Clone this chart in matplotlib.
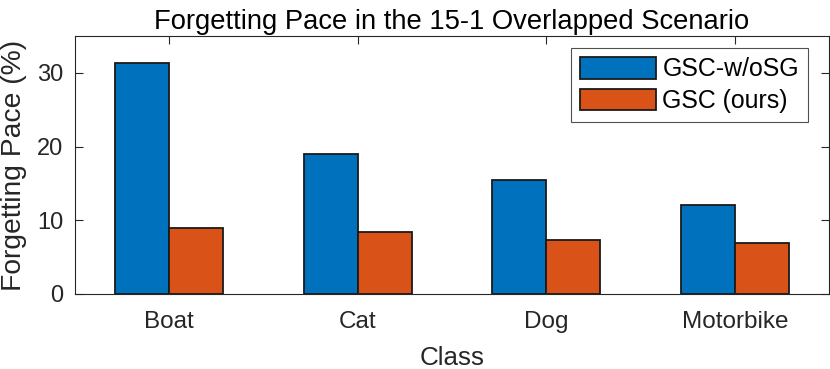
import numpy as np
import matplotlib.pyplot as plt

classes = ["Boat", "Cat", "Dog", "Motorbike"]
series_names = ["GSC-w/oSG", "GSC (ours)"]
wo_sg = [31.3, 18.95, 15.4, 12.1]
ours = [9.0, 8.4, 7.3, 6.95]
yticks = [0, 10, 20, 30]

colors = ["#0072BD", "#D95319"]

plt.rcParams["font.family"] = ["Liberation Sans", "DejaVu Sans"]

fig = plt.figure(figsize=(8.3, 3.69), dpi=100)
ax = fig.add_axes([75 / 830, 1 - 294 / 369, 754 / 830, 258 / 369])

x = np.arange(1, len(classes) + 1)
w = 0.286
for i, (vals, name) in enumerate(zip([wo_sg, ours], series_names)):
    ax.bar(x + (i - 0.5) * w, vals, width=w, color=colors[i],
           edgecolor="#1a1a1a", linewidth=1.3, label=name)

ax.set_xlim(0.5, 4.5)
ax.set_ylim(0, 35)
ax.set_xticks(x)
ax.set_xticklabels(classes)
ax.set_yticks(yticks)
ax.tick_params(direction="in", length=6, width=0.8, colors="#262626",
               top=True, right=True)
ax.tick_params(axis="x", labelsize=17.5, pad=12.5)
ax.tick_params(axis="y", labelsize=17, pad=8.5)
for s in ax.spines.values():
    s.set_color("#262626")
    s.set_linewidth(0.8)

ax.set_xlabel("Class", fontsize=18.7, color="#262626", labelpad=9)
ax.set_ylabel("Forgetting Pace (%)", fontsize=20.3, color="#262626", labelpad=7)
ax.set_title("Forgetting Pace in the 15-1 Overlapped Scenario", fontsize=19.7,
             color="black", pad=5)

leg = ax.legend(loc="upper right", fontsize=17.9, frameon=True, fancybox=False,
                handlelength=3.05, handleheight=0.96, borderpad=0.36,
                labelspacing=0.3, handletextpad=0.25, borderaxespad=0,
                bbox_to_anchor=(0.972, 0.953))
leg.get_frame().set_edgecolor("#262626")
leg.get_frame().set_linewidth(0.8)

fig.savefig("out.png", dpi=100)
